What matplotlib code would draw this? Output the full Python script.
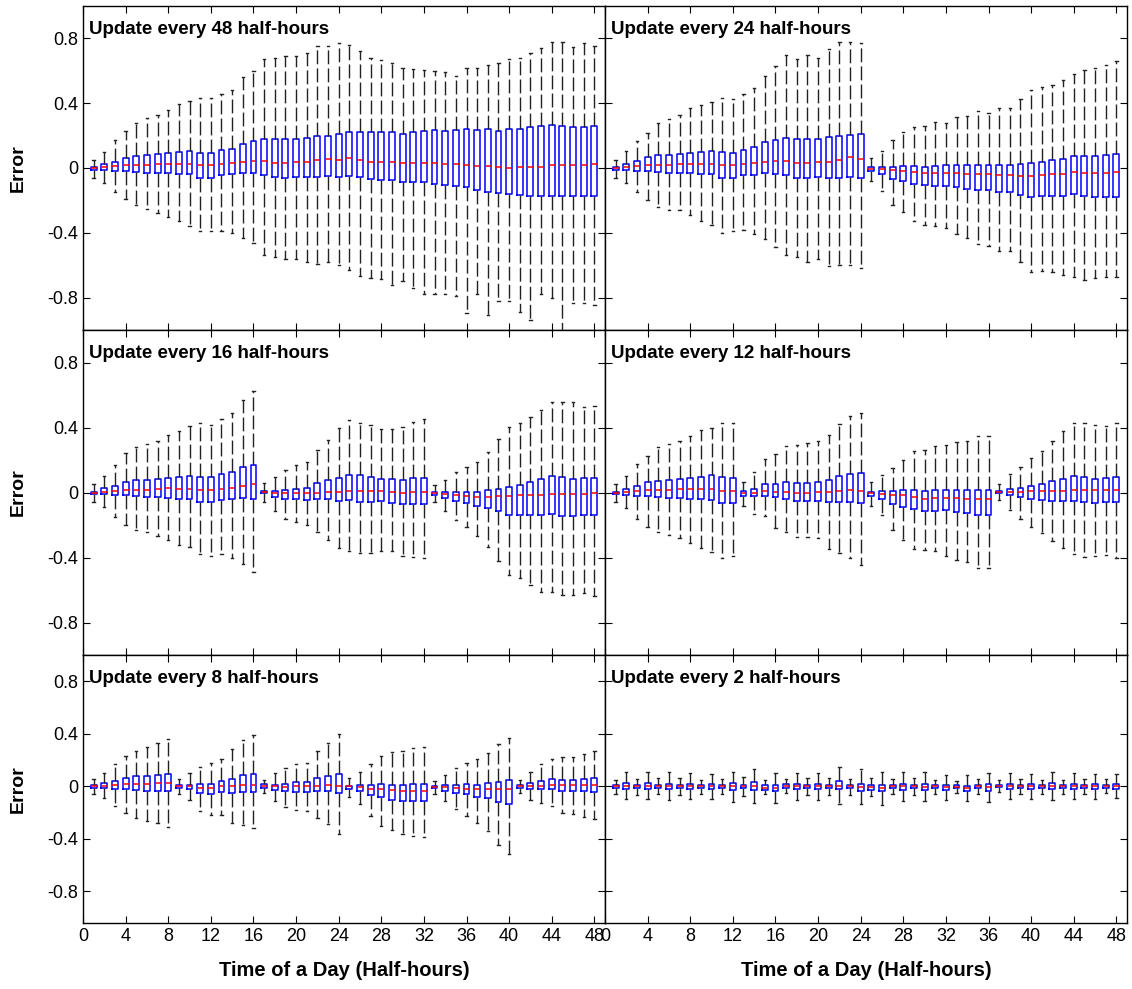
import matplotlib
matplotlib.use("Agg")
import matplotlib.pyplot as plt

plt.rcParams['font.family'] = ['Liberation Sans', 'DejaVu Sans']

# half-hour slots 1..48
slots = list(range(1, 49))
xtick_vals = list(range(0, 49, 4))
ytick_vals = [-0.8, -0.4, 0, 0.4, 0.8]
ytick_labels = ['-0.8', '-0.4', '0', '0.4', '0.8']

# ---- update every 48 half-hours ----
u48_hi = [0.05, 0.10, 0.17, 0.23, 0.28, 0.31, 0.33, 0.36, 0.395, 0.415, 0.435, 0.43, 0.457, 0.48, 0.56, 0.60,
          0.67, 0.68, 0.69, 0.69, 0.71, 0.755, 0.755, 0.77, 0.76, 0.72, 0.68, 0.667, 0.65, 0.62, 0.61, 0.605,
          0.60, 0.595, 0.565, 0.62, 0.617, 0.634, 0.65, 0.675, 0.677, 0.71, 0.743, 0.776, 0.78, 0.747, 0.77, 0.75]
u48_q3 = [0.008, 0.025, 0.04, 0.064, 0.074, 0.078, 0.084, 0.093, 0.10, 0.107, 0.095, 0.095, 0.113, 0.12, 0.15, 0.167,
          0.18, 0.177, 0.177, 0.177, 0.185, 0.20, 0.20, 0.21, 0.22, 0.225, 0.22, 0.225, 0.22, 0.21, 0.22, 0.226,
          0.235, 0.23, 0.235, 0.24, 0.237, 0.24, 0.23, 0.243, 0.24, 0.25, 0.257, 0.263, 0.257, 0.25, 0.25, 0.257]
u48_med = [0, 0.004, 0.01, 0.018, 0.02, 0.02, 0.025, 0.027, 0.027, 0.027, 0.018, 0.018, 0.027, 0.03, 0.04, 0.045,
           0.043, 0.033, 0.03, 0.037, 0.037, 0.05, 0.058, 0.05, 0.06, 0.05, 0.04, 0.04, 0.035, 0.03, 0.033, 0.033,
           0.03, 0.027, 0.027, 0.02, 0.012, 0.01, 0.004, 0.002, 0.006, 0.006, 0.006, 0.016, 0.016, 0.016, 0.02, 0.022]
u48_q1 = [-0.012, -0.012, -0.02, -0.018, -0.025, -0.03, -0.03, -0.033, -0.037, -0.04, -0.06, -0.06, -0.045, -0.04,
          -0.033, -0.033, -0.045, -0.056, -0.062, -0.058, -0.058, -0.053, -0.05, -0.058, -0.05, -0.058, -0.07, -0.072,
          -0.076, -0.084, -0.086, -0.088, -0.097, -0.105, -0.11, -0.12, -0.138, -0.146, -0.154, -0.163, -0.167, -0.17,
          -0.173, -0.17, -0.173, -0.17, -0.17, -0.17]
u48_lo = [-0.06, -0.09, -0.15, -0.19, -0.23, -0.25, -0.28, -0.30, -0.33, -0.36, -0.39, -0.39, -0.39, -0.40, -0.43,
          -0.46, -0.54, -0.55, -0.56, -0.56, -0.58, -0.59, -0.58, -0.60, -0.63, -0.665, -0.68, -0.685, -0.72, -0.70,
          -0.74, -0.78, -0.78, -0.78, -0.79, -0.895, -0.78, -0.91, -0.82, -0.82, -0.887, -0.94, -0.78, -0.80, -1.05,
          -0.833, -0.833, -0.846]

# ---- update every 24 half-hours ----
u24_hi = [0.05, 0.105, 0.165, 0.214, 0.28, 0.30, 0.33, 0.37, 0.387, 0.41, 0.43, 0.424, 0.455, 0.494, 0.57, 0.63,
          0.695, 0.675, 0.695, 0.677, 0.735, 0.776, 0.776, 0.77, 0.064, 0.107, 0.173, 0.22, 0.255, 0.26, 0.284, 0.28,
          0.317, 0.32, 0.35, 0.34, 0.372, 0.37, 0.426, 0.48, 0.50, 0.514, 0.543, 0.58, 0.605, 0.62, 0.634, 0.66]
u24_q3 = [0.008, 0.025, 0.045, 0.066, 0.078, 0.078, 0.084, 0.093, 0.10, 0.107, 0.10, 0.095, 0.113, 0.13, 0.158, 0.17,
          0.187, 0.177, 0.177, 0.177, 0.19, 0.20, 0.206, 0.21, 0.004, 0.008, 0.008, 0.014, 0.014, 0.008, 0.014, 0.016,
          0.018, 0.018, 0.018, 0.018, 0.016, 0.02, 0.022, 0.03, 0.04, 0.047, 0.055, 0.072, 0.072, 0.072, 0.078, 0.084]
u24_med = [0, 0.006, 0.012, 0.02, 0.02, 0.018, 0.022, 0.025, 0.025, 0.025, 0.016, 0.016, 0.025, 0.03, 0.04, 0.045,
           0.043, 0.033, 0.03, 0.035, 0.037, 0.05, 0.066, 0.055, -0.004, -0.008, -0.014, -0.02, -0.027, -0.033,
           -0.033, -0.033, -0.033, -0.037, -0.04, -0.04, -0.045, -0.043, -0.05, -0.05, -0.043, -0.04, -0.037, -0.027,
           -0.03, -0.03, -0.03, -0.027]
u24_q1 = [-0.012, -0.01, -0.018, -0.018, -0.023, -0.03, -0.03, -0.033, -0.037, -0.04, -0.06, -0.06, -0.045, -0.043,
          -0.033, -0.037, -0.045, -0.06, -0.064, -0.056, -0.064, -0.06, -0.053, -0.06, -0.018, -0.035, -0.068, -0.082,
          -0.10, -0.107, -0.113, -0.113, -0.12, -0.13, -0.138, -0.138, -0.15, -0.148, -0.167, -0.18, -0.175, -0.17,
          -0.17, -0.163, -0.173, -0.18, -0.18, -0.18]
u24_lo = [-0.06, -0.09, -0.15, -0.20, -0.24, -0.257, -0.26, -0.29, -0.325, -0.35, -0.40, -0.39, -0.38, -0.41, -0.44,
          -0.49, -0.54, -0.55, -0.58, -0.56, -0.607, -0.60, -0.60, -0.62, -0.078, -0.14, -0.23, -0.27, -0.325, -0.35,
          -0.36, -0.37, -0.41, -0.434, -0.47, -0.48, -0.51, -0.51, -0.58, -0.64, -0.636, -0.64, -0.66, -0.67, -0.69,
          -0.677, -0.67, -0.67]

# ---- update every 16 half-hours ----
u16_hi = [0.055, 0.10, 0.17, 0.243, 0.28, 0.296, 0.32, 0.355, 0.38, 0.41, 0.43, 0.416, 0.453, 0.49, 0.567, 0.627,
          0.057, 0.096, 0.14, 0.167, 0.19, 0.263, 0.324, 0.40, 0.445, 0.43, 0.418, 0.39, 0.388, 0.404, 0.433, 0.455,
          0.045, 0.08, 0.125, 0.155, 0.19, 0.247, 0.33, 0.404, 0.43, 0.467, 0.51, 0.56, 0.56, 0.56, 0.524, 0.533]
u16_q3 = [0.006, 0.025, 0.043, 0.065, 0.075, 0.075, 0.082, 0.09, 0.096, 0.104, 0.096, 0.094, 0.112, 0.124, 0.157, 0.17,
          0.012, 0.01, 0.018, 0.024, 0.03, 0.057, 0.075, 0.09, 0.108, 0.108, 0.096, 0.086, 0.082, 0.078, 0.088, 0.09,
          0.004, 0.002, 0.004, 0.006, 0.004, 0.014, 0.022, 0.033, 0.045, 0.063, 0.084, 0.10, 0.096, 0.082, 0.088, 0.09]
u16_med = [0, 0.006, 0.01, 0.016, 0.018, 0.016, 0.022, 0.027, 0.024, 0.024, 0.014, 0.014, 0.024, 0.03, 0.043, 0.05,
           0.002, -0.002, -0.004, -0.004, -0.004, 0, 0.004, 0.004, 0.01, 0.012, 0.008, 0.008, 0.004, -0.002, 0.002,
           0.002, -0.006, -0.01, -0.018, -0.022, -0.028, -0.026, -0.024, -0.02, -0.018, -0.016, -0.014, -0.01, -0.01,
           -0.01, -0.008, -0.006]
u16_q1 = [-0.012, -0.012, -0.018, -0.018, -0.024, -0.03, -0.03, -0.035, -0.04, -0.043, -0.06, -0.06, -0.047, -0.043,
          -0.035, -0.04, -0.006, -0.03, -0.04, -0.043, -0.045, -0.043, -0.043, -0.053, -0.047, -0.057, -0.057, -0.055,
          -0.063, -0.07, -0.07, -0.073, -0.016, -0.035, -0.053, -0.063, -0.08, -0.096, -0.116, -0.137, -0.139,
          -0.139, -0.137, -0.135, -0.145, -0.145, -0.139, -0.139]
u16_lo = [-0.06, -0.09, -0.15, -0.20, -0.23, -0.245, -0.27, -0.294, -0.325, -0.337, -0.38, -0.39, -0.38, -0.404,
          -0.44, -0.49, -0.06, -0.114, -0.16, -0.184, -0.20, -0.245, -0.29, -0.343, -0.36, -0.37, -0.375, -0.36,
          -0.36, -0.39, -0.396, -0.40, -0.06, -0.116, -0.17, -0.21, -0.27, -0.333, -0.424, -0.51, -0.524, -0.57,
          -0.61, -0.614, -0.63, -0.633, -0.62, -0.635]

# ---- update every 12 half-hours ----
u12_hi = [0.05, 0.10, 0.175, 0.226, 0.28, 0.30, 0.32, 0.345, 0.384, 0.40, 0.43, 0.427, 0.065, 0.127, 0.206, 0.24,
          0.284, 0.29, 0.304, 0.32, 0.353, 0.42, 0.473, 0.49, 0.067, 0.11, 0.153, 0.20, 0.253, 0.26, 0.284, 0.29,
          0.312, 0.314, 0.35, 0.345, 0.05, 0.112, 0.16, 0.21, 0.255, 0.314, 0.377, 0.43, 0.43, 0.414, 0.41, 0.43]
u12_q3 = [0.006, 0.02, 0.04, 0.063, 0.073, 0.075, 0.082, 0.092, 0.098, 0.106, 0.094, 0.088, 0.008, 0.024, 0.05, 0.055,
          0.063, 0.057, 0.06, 0.063, 0.075, 0.10, 0.112, 0.118, 0.006, 0.008, 0.008, 0.014, 0.014, 0.008, 0.014, 0.016,
          0.018, 0.014, 0.016, 0.016, 0.01, 0.02, 0.03, 0.04, 0.053, 0.07, 0.086, 0.10, 0.098, 0.086, 0.088, 0.094]
u12_med = [0, 0.004, 0.008, 0.014, 0.016, 0.016, 0.02, 0.022, 0.02, 0.02, 0.012, 0.01, -0.004, 0, 0.008, 0.006,
           0.004, 0, -0.002, 0.002, 0.002, 0.012, 0.016, 0.012, -0.006, -0.01, -0.018, -0.018, -0.028, -0.037, -0.033,
           -0.033, -0.035, -0.037, -0.04, -0.04, 0.002, 0.002, 0.004, 0.008, 0.008, 0.008, 0.01, 0.014, 0.014, 0.014,
           0.016, 0.018]
u12_q1 = [-0.012, -0.014, -0.02, -0.022, -0.03, -0.033, -0.035, -0.04, -0.043, -0.047, -0.065, -0.067, -0.022, -0.024,
          -0.024, -0.03, -0.04, -0.05, -0.055, -0.053, -0.06, -0.06, -0.06, -0.065, -0.022, -0.04, -0.07, -0.088, -0.10,
          -0.112, -0.112, -0.11, -0.12, -0.127, -0.139, -0.139, -0.006, -0.018, -0.03, -0.04, -0.047, -0.05, -0.05,
          -0.055, -0.06, -0.065, -0.06, -0.06]
u12_lo = [-0.06, -0.094, -0.16, -0.21, -0.243, -0.263, -0.28, -0.31, -0.34, -0.365, -0.40, -0.39, -0.084, -0.13,
          -0.147, -0.218, -0.243, -0.275, -0.273, -0.28, -0.347, -0.373, -0.40, -0.445, -0.084, -0.14, -0.23, -0.294,
          -0.35, -0.353, -0.36, -0.388, -0.414, -0.427, -0.465, -0.465, -0.047, -0.106, -0.16, -0.21, -0.247, -0.298,
          -0.343, -0.377, -0.396, -0.39, -0.384, -0.40]

# ---- update every 8 half-hours ----
u8_hi = [0.056, 0.10, 0.17, 0.23, 0.273, 0.30, 0.33, 0.36, 0.056, 0.10, 0.15, 0.175, 0.21, 0.286, 0.35, 0.39,
         0.05, 0.10, 0.14, 0.167, 0.18, 0.27, 0.33, 0.40, 0.063, 0.11, 0.17, 0.235, 0.263, 0.27, 0.29, 0.296,
         0.04, 0.086, 0.137, 0.175, 0.205, 0.256, 0.324, 0.37, 0.048, 0.11, 0.17, 0.21, 0.223, 0.225, 0.25, 0.273]
u8_q3 = [0.008, 0.023, 0.043, 0.066, 0.076, 0.076, 0.086, 0.094, 0.008, 0.013, 0.015, 0.018, 0.038, 0.058, 0.086, 0.094,
         0.015, 0.013, 0.02, 0.03, 0.035, 0.063, 0.08, 0.096, 0.005, 0.013, 0.013, 0.018, 0.013, 0.013, 0.015, 0.018,
         0.005, 0.008, 0.013, 0.015, 0.013, 0.025, 0.035, 0.046, 0.01, 0.025, 0.04, 0.053, 0.05, 0.05, 0.058, 0.063]
u8_med = [0, 0.005, 0.01, 0.018, 0.018, 0.015, 0.023, 0.025, 0, 0, -0.01, -0.013, 0, 0.005, 0.013, 0.013,
          0.003, 0, -0.005, 0, 0, 0.005, 0.01, 0.005, 0, -0.008, -0.018, -0.02, -0.025, -0.035, -0.033, -0.033,
          -0.005, -0.008, -0.015, -0.018, -0.023, -0.023, -0.02, -0.018, 0, 0.003, 0.005, 0.008, 0.008, 0.008, 0.01, 0.01]
u8_q1 = [-0.013, -0.013, -0.02, -0.023, -0.028, -0.035, -0.035, -0.038, -0.013, -0.023, -0.05, -0.056, -0.043, -0.048,
         -0.04, -0.046, -0.01, -0.028, -0.038, -0.04, -0.04, -0.038, -0.038, -0.05, -0.02, -0.038, -0.063, -0.084,
         -0.10, -0.11, -0.11, -0.11, -0.015, -0.033, -0.048, -0.06, -0.078, -0.09, -0.116, -0.137, -0.01, -0.018,
         -0.02, -0.023, -0.033, -0.035, -0.035, -0.04]
u8_lo = [-0.06, -0.09, -0.15, -0.20, -0.24, -0.26, -0.276, -0.306, -0.06, -0.10, -0.187, -0.215, -0.218, -0.276,
         -0.296, -0.316, -0.05, -0.11, -0.157, -0.177, -0.187, -0.243, -0.29, -0.36, -0.08, -0.137, -0.228, -0.30,
         -0.33, -0.36, -0.38, -0.385, -0.056, -0.11, -0.172, -0.223, -0.28, -0.34, -0.445, -0.516, -0.048, -0.10,
         -0.13, -0.152, -0.203, -0.21, -0.233, -0.248]

# ---- update every 2 half-hours ----
u2_hi = [0.046, 0.106, 0.056, 0.106, 0.061, 0.106, 0.061, 0.101, 0.048, 0.091, 0.053, 0.111, 0.068, 0.134, 0.048, 0.104,
         0.058, 0.099, 0.061, 0.099, 0.066, 0.149, 0.056, 0.132, 0.063, 0.109, 0.056, 0.106, 0.063, 0.109, 0.046, 0.089,
         0.038, 0.086, 0.053, 0.101, 0.051, 0.104, 0.053, 0.096, 0.046, 0.109, 0.051, 0.101, 0.053, 0.096, 0.053, 0.094]
u2_q3 = [0.008, 0.023, 0.008, 0.025, 0.008, 0.02, 0.008, 0.02, 0.008, 0.015, 0.008, 0.023, 0.008, 0.03, 0.008, 0.01,
         0.015, 0.018, 0.008, 0.02, 0.008, 0.038, 0.008, 0.02, 0.008, 0.008, 0.008, 0.018, 0.008, 0.018, 0.008, 0.013,
         0.008, 0.005, 0.008, 0.015, 0.013, 0.02, 0.008, 0.02, 0.008, 0.025, 0.008, 0.018, 0.008, 0.015, 0.008, 0.02]
u2_med = [0, 0.002, 0, 0.002, 0, 0, 0, 0.002, 0, 0, 0, 0, 0, 0, -0.01, -0.015,
          0.003, 0, 0, 0, 0, 0.005, 0, -0.003, -0.005, -0.015, 0, 0, 0, -0.003, 0, -0.002,
          -0.003, -0.015, 0, -0.003, 0.003, 0.002, 0, 0, 0, 0.002, 0, 0, 0, 0, 0, 0.003]
u2_q1 = [-0.015, -0.018, -0.015, -0.02, -0.015, -0.023, -0.015, -0.02, -0.015, -0.023, -0.015, -0.03, -0.015, -0.03,
         -0.025, -0.035, -0.01, -0.023, -0.015, -0.023, -0.015, -0.02, -0.015, -0.033, -0.025, -0.038, -0.015, -0.025,
         -0.015, -0.028, -0.015, -0.028, -0.015, -0.035, -0.015, -0.033, -0.008, -0.02, -0.015, -0.023, -0.015, -0.02,
         -0.015, -0.02, -0.015, -0.023, -0.015, -0.018]
u2_lo = [-0.061, -0.096, -0.063, -0.099, -0.061, -0.106, -0.063, -0.096, -0.061, -0.094, -0.061, -0.116, -0.073, -0.127,
         -0.061, -0.127, -0.051, -0.104, -0.068, -0.106, -0.063, -0.134, -0.063, -0.132, -0.076, -0.139, -0.061, -0.111,
         -0.068, -0.114, -0.056, -0.104, -0.051, -0.114, -0.061, -0.119, -0.041, -0.099, -0.058, -0.099, -0.056, -0.104,
         -0.061, -0.096, -0.058, -0.099, -0.053, -0.086]

panels = [
    ("Update every 48 half-hours", u48_lo, u48_q1, u48_med, u48_q3, u48_hi),
    ("Update every 24 half-hours", u24_lo, u24_q1, u24_med, u24_q3, u24_hi),
    ("Update every 16 half-hours", u16_lo, u16_q1, u16_med, u16_q3, u16_hi),
    ("Update every 12 half-hours", u12_lo, u12_q1, u12_med, u12_q3, u12_hi),
    ("Update every 8 half-hours", u8_lo, u8_q1, u8_med, u8_q3, u8_hi),
    ("Update every 2 half-hours", u2_lo, u2_q1, u2_med, u2_q3, u2_hi),
]

W, H = 1132, 989
fig = plt.figure(figsize=(W / 100, H / 100), dpi=100)

# axes rectangles in pixels: column left edges, rows as (top, height)
col_left = [83, 605]
rows = [(6, 324), (330, 325), (655, 268)]
ylims = [(-1.0, 1.0), (-1.0, 1.0), (-1.04, 1.0)]

for i, (title, lo, q1, med, q3, hi) in enumerate(panels):
    r, c = divmod(i, 2)
    top, h = rows[r]
    ax = fig.add_axes([col_left[c] / W, 1 - (top + h) / H, 522 / W, h / H])

    stats = []
    for k in range(len(slots)):
        stats.append(dict(whislo=lo[k], q1=q1[k], med=med[k], q3=q3[k], whishi=hi[k], fliers=[]))

    ax.bxp(stats, positions=slots, widths=0.55, capwidths=0.22, showfliers=False, manage_ticks=False,
           boxprops=dict(color='blue', linewidth=1.1),
           medianprops=dict(color='red', linewidth=1.1),
           whiskerprops=dict(color='#222222', linewidth=1.0, linestyle=(0, (10, 3))),
           capprops=dict(color='#222222', linewidth=1.0))

    ax.set_xlim(0, 49)
    ax.set_ylim(*ylims[r])
    ax.set_xticks(xtick_vals)
    ax.set_yticks(ytick_vals)
    ax.tick_params(direction='in', top=True, right=True, length=5, width=0.8, labelsize=13)
    for s in ax.spines.values():
        s.set_linewidth(1.0)

    if c == 0:
        ax.set_yticklabels(ytick_labels)
        ax.set_ylabel('Error', fontsize=14, fontweight='bold')
        ax.yaxis.set_label_coords(-0.108, 0.5)
    else:
        ax.set_yticklabels([])
    if r == 2:
        ax.set_xticklabels([str(v) for v in xtick_vals])
        ax.set_xlabel('Time of a Day (Half-hours)', fontsize=14.5, fontweight='bold')
        ax.xaxis.set_label_coords(0.5, -0.14)
    else:
        ax.set_xticklabels([])

    ax.annotate(title, xy=(0, 1), xycoords='axes fraction', xytext=(4, -11), textcoords='offset points',
                ha='left', va='top', fontsize=13.5, fontweight='bold')

fig.savefig('out.png', dpi=100)
